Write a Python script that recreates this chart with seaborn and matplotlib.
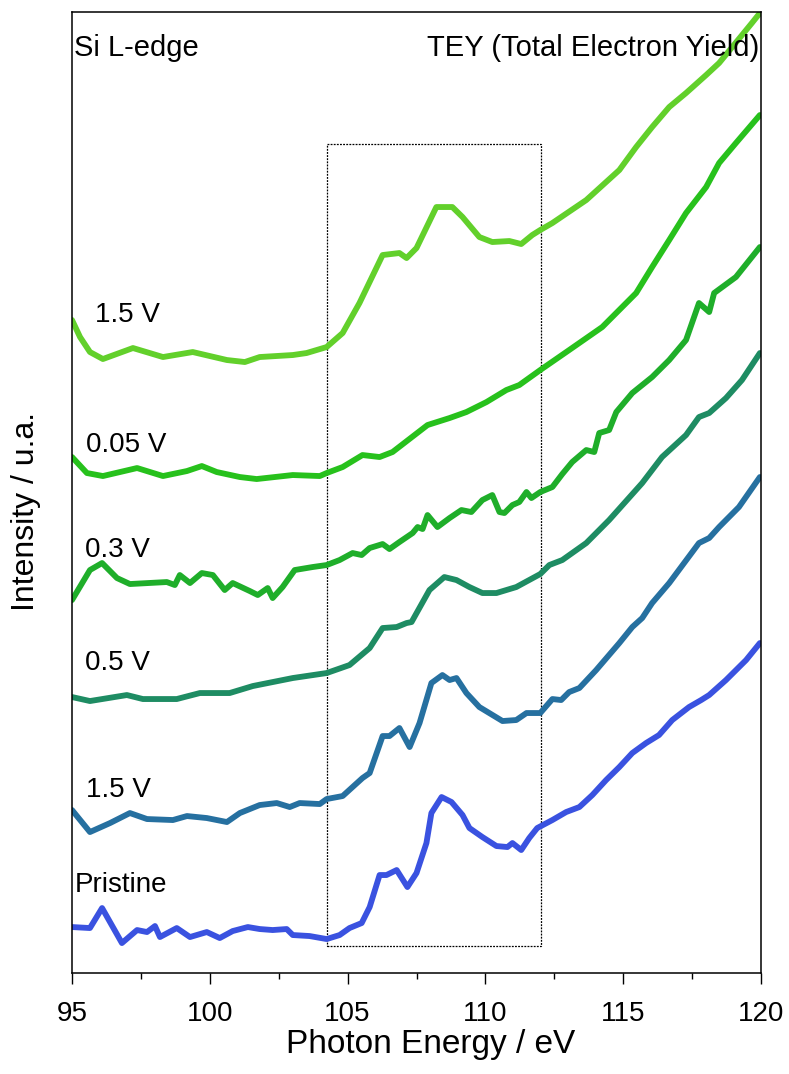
#!/usr/bin/env python3
# Si L-edge XAS spectra (TEY), stacked curves for the different cut-off voltages.

import numpy as np
import pandas as pd
import matplotlib
matplotlib.use("Agg")
import matplotlib.pyplot as plt
from matplotlib.patches import Rectangle
from matplotlib.ticker import MultipleLocator
import seaborn as sns

# ---- data (photon energy in eV, intensity in a.u. incl. offset) ----
e_15v_top = [95.00, 95.29, 95.65, 96.12, 97.21, 98.30, 99.38, 100.62, 101.27, 101.81, 103.01, 103.51,
             104.24, 104.82, 105.43, 106.27, 106.88, 107.14, 107.50, 108.22, 108.80, 109.17, 109.78,
             110.25, 110.87, 111.30, 111.70, 111.99, 112.43, 113.66, 114.86, 115.47, 116.05, 116.67,
             117.28, 118.01, 118.48, 119.67, 119.96]
i_15v_top = [653, 636, 621, 614, 625, 616, 621, 613, 611, 616, 618, 620,
             626, 640, 670, 718, 720, 715, 725, 766, 766, 756, 736,
             731, 732, 729, 738, 743, 750, 773, 803, 826, 846, 866,
             880, 898, 910, 950, 960]

e_005v = [95.00, 95.54, 96.12, 97.36, 98.30, 99.17, 99.71, 100.25, 101.09, 101.70, 103.01, 103.99,
          104.24, 104.82, 105.54, 106.16, 106.63, 107.90, 108.70, 109.31, 110.04, 110.76, 111.23,
          111.99, 113.04, 114.24, 115.47, 116.05, 116.67, 117.28, 118.01, 118.48, 119.09, 119.96]
i_005v = [516, 500, 497, 505, 497, 502, 507, 501, 496, 494, 498, 497,
          500, 506, 518, 516, 521, 548, 555, 561, 571, 583, 588,
          603, 623, 646, 680, 706, 733, 760, 786, 810, 830, 858]

e_03v = [95.00, 95.65, 96.09, 96.63, 97.10, 98.44, 98.73, 98.91, 99.28, 99.71, 100.11, 100.54,
         100.83, 101.45, 101.74, 102.10, 102.28, 102.64, 103.08, 103.73, 104.24, 104.71, 105.18,
         105.51, 105.80, 106.27, 106.52, 106.88, 107.36, 107.54, 107.72, 107.90, 108.26, 108.70,
         109.13, 109.49, 109.89, 110.25, 110.51, 110.69, 110.98, 111.23, 111.49, 111.67, 111.99,
         112.43, 112.79, 113.15, 113.66, 113.95, 114.13, 114.49, 114.75, 115.33, 116.05, 116.67,
         117.28, 117.75, 118.12, 118.30, 119.09, 119.96]
i_03v = [373, 403, 410, 395, 389, 391, 388, 398, 390, 400, 398, 383,
         390, 382, 378, 385, 375, 386, 403, 406, 408, 413, 420,
         418, 425, 429, 424, 431, 440, 446, 444, 458, 446, 455,
         463, 461, 473, 478, 461, 460, 468, 471, 481, 475, 481,
         486, 499, 511, 523, 521, 540, 543, 561, 580, 596, 613,
         633, 670, 661, 680, 696, 726]

e_05v = [95.00, 95.65, 96.99, 97.57, 98.80, 99.64, 100.72, 101.56, 103.01, 104.24, 105.07, 105.80,
         106.27, 106.78, 107.14, 107.32, 107.97, 108.51, 108.95, 109.42, 109.89, 110.40, 111.12,
         111.99, 112.32, 112.79, 113.66, 114.49, 115.69, 116.41, 117.28, 117.75, 118.12, 118.73,
         119.31, 119.96]
i_05v = [276, 272, 278, 274, 274, 280, 280, 287, 295, 300, 308, 325,
         345, 346, 350, 351, 383, 396, 393, 386, 380, 380, 386,
         399, 408, 413, 430, 453, 490, 516, 538, 556, 560, 575,
         593, 620]

e_15v = [95.00, 95.65, 96.38, 97.10, 97.72, 98.66, 99.17, 99.89, 100.62, 101.09, 101.81, 102.43,
         102.90, 103.26, 103.99, 104.24, 104.82, 105.54, 105.80, 106.27, 106.52, 106.88, 107.25,
         107.61, 108.04, 108.44, 108.70, 108.95, 109.31, 109.78, 110.14, 110.62, 111.12, 111.49,
         111.99, 112.43, 112.75, 113.04, 113.41, 114.02, 114.86, 115.33, 115.69, 116.05, 116.67,
         117.75, 118.12, 118.48, 119.20, 119.96]
i_15v = [163, 141, 150, 160, 154, 153, 157, 155, 151, 160, 168, 170,
         166, 170, 169, 174, 177, 195, 200, 237, 237, 245, 226,
         250, 290, 298, 293, 295, 280, 266, 260, 252, 253, 260,
         260, 274, 273, 281, 285, 303, 330, 346, 355, 370, 390,
         430, 435, 446, 466, 496]

e_pristine = [95.00, 95.65, 96.09, 96.81, 97.36, 97.72, 98.01, 98.19, 98.80, 99.28, 99.89, 100.36,
              100.83, 101.38, 101.81, 102.28, 102.79, 103.01, 103.62, 104.24, 104.71, 105.07, 105.51,
              105.80, 106.16, 106.41, 106.78, 107.17, 107.50, 107.86, 108.04, 108.41, 108.77, 109.17,
              109.42, 109.89, 110.40, 110.80, 110.98, 111.30, 111.59, 111.88, 112.43, 112.93, 113.41,
              113.88, 114.38, 114.86, 115.33, 115.83, 116.30, 116.78, 117.39, 117.83, 118.12, 118.73,
              119.46, 119.96]
i_pristine = [46, 45, 65, 30, 43, 41, 47, 36, 45, 36, 41, 35,
              42, 46, 44, 43, 44, 38, 37, 34, 38, 45, 50,
              66, 98, 98, 103, 86, 100, 130, 160, 176, 171, 158,
              145, 136, 127, 126, 130, 123, 135, 145, 153, 161, 166,
              178, 193, 206, 220, 230, 238, 253, 266, 273, 278, 293,
              313, 330]

samples = ["Pristine", "1.5 V (1st)", "0.5 V", "0.3 V", "0.05 V", "1.5 V (2nd)"]
labels = ["Pristine", "1.5 V", "0.5 V", "0.3 V", "0.05 V", "1.5 V"]
energies = [e_pristine, e_15v, e_05v, e_03v, e_005v, e_15v_top]
intensities = [i_pristine, i_15v, i_05v, i_03v, i_005v, i_15v_top]
colors = ["#3a52e0", "#2670a0", "#1e8c63", "#1fae2a", "#27c11c", "#62d02b"]
# where the curve labels sit (energy, intensity of the baseline)
label_x = [95.10, 95.50, 95.47, 95.47, 95.50, 95.83]
label_y = [81, 176, 303, 416, 521, 651]

df = pd.concat([pd.DataFrame({"energy": e, "intensity": i, "sample": s})
                for e, i, s in zip(energies, intensities, samples)], ignore_index=True)

# ---- plot ----
sns.set_theme(style="white")
plt.rcParams["font.family"] = ["Liberation Sans", "DejaVu Sans"]
plt.rcParams["text.color"] = "black"
plt.rcParams["axes.labelcolor"] = "black"
plt.rcParams["xtick.color"] = "black"

fig = plt.figure(figsize=(7.89, 10.74), dpi=100)
ax = fig.add_axes([0.0913, 0.094, 0.8732, 0.8948])

sns.lineplot(data=df, x="energy", y="intensity", hue="sample", hue_order=samples,
             palette=dict(zip(samples, colors)), sort=False, estimator=None,
             legend=False, lw=4.2, ax=ax)

# dotted box around the edge region
ax.add_patch(Rectangle((104.24, 27), 112.0 - 104.24, 829 - 27, fill=False,
                       ec="black", lw=0.9, ls=(0, (1.5, 1))))

for x, y, t in zip(label_x, label_y, labels):
    ax.text(x, y, t, fontsize=20, va="baseline", ha="left")

ax.text(0.003, 0.977, "Si L-edge", transform=ax.transAxes, fontsize=21, va="top", ha="left")
ax.text(0.997, 0.977, "TEY (Total Electron Yield)", transform=ax.transAxes, fontsize=21,
        va="top", ha="right")

ax.set_xlim(95, 120)
ax.set_ylim(0, 961)
ax.xaxis.set_major_locator(MultipleLocator(5))
ax.xaxis.set_minor_locator(MultipleLocator(2.5))
ax.tick_params(axis="x", which="major", direction="out", length=8, width=1, labelsize=20,
               bottom=True, pad=12)
ax.tick_params(axis="x", which="minor", direction="out", length=4, width=1, bottom=True)
ax.set_yticks([])

for sp in ax.spines.values():
    sp.set_color("black")
    sp.set_linewidth(1.1)

ax.set_xlabel("Photon Energy / eV", fontsize=24)
ax.set_ylabel("Intensity / u.a.", fontsize=23)
ax.xaxis.set_label_coords(0.52, -0.058)
ax.yaxis.set_label_coords(-0.045, 0.48)

fig.savefig("out.png", dpi=100)
